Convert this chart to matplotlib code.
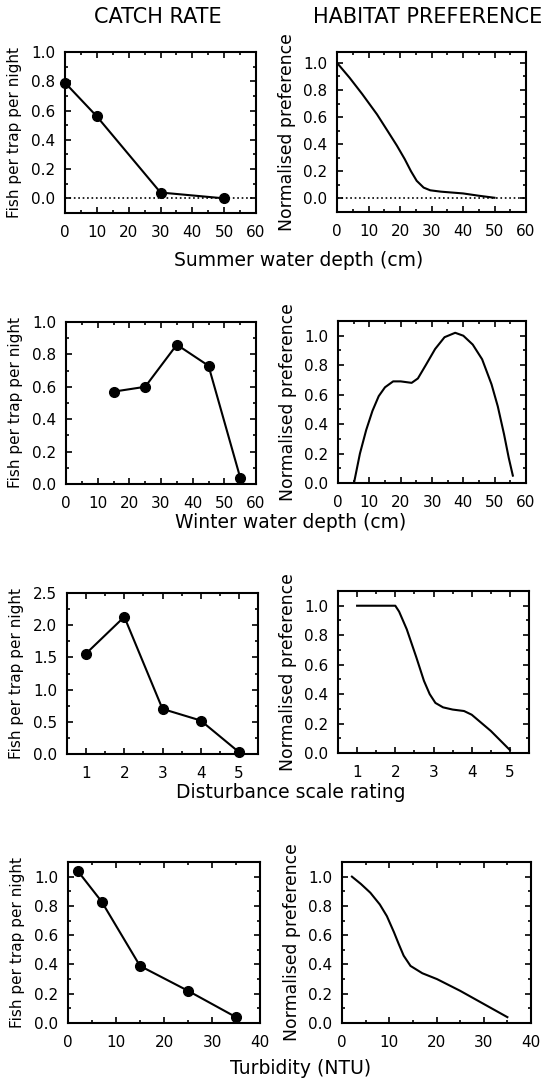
import matplotlib
matplotlib.use("Agg")
import matplotlib.pyplot as plt
from matplotlib.ticker import MultipleLocator, FormatStrFormatter

plt.rcParams['font.family'] = ['DejaVu Sans']

# ---- data ----
summer_depth = [0, 10, 30, 50]
summer_catch = [0.79, 0.56, 0.04, 0.0]
summer_pref_x = [0, 4, 8, 12.7, 16, 19, 21.5, 23.5, 25.3, 27.5, 29.6, 33, 40, 45, 50]
summer_pref_y = [1.0, 0.89, 0.77, 0.62, 0.50, 0.39, 0.29, 0.20, 0.13, 0.08, 0.06, 0.05, 0.037, 0.02, 0.005]

winter_depth = [15, 25, 35, 45, 55]
winter_catch = [0.57, 0.60, 0.86, 0.73, 0.04]
winter_pref_x = [5.1, 7, 9, 11, 13, 15, 17.6, 20, 23.5, 25.5, 28, 31, 34, 37.4, 40, 43, 46, 49, 51, 53, 54.5, 55.8]
winter_pref_y = [0.0, 0.2, 0.36, 0.49, 0.59, 0.65, 0.69, 0.69, 0.68, 0.71, 0.80, 0.91, 0.99, 1.02, 1.00, 0.94, 0.84, 0.67, 0.52, 0.33, 0.17, 0.05]

disturb = [1, 2, 3, 4, 5]
disturb_catch = [1.56, 2.13, 0.70, 0.52, 0.03]
disturb_pref_x = [1.0, 2.0, 2.1, 2.3, 2.55, 2.75, 2.9, 3.05, 3.25, 3.5, 3.8, 4.0, 4.5, 5.0]
disturb_pref_y = [1.0, 1.0, 0.96, 0.84, 0.65, 0.49, 0.40, 0.34, 0.31, 0.295, 0.285, 0.26, 0.15, 0.02]

turb = [2, 7, 15, 25, 35]
turb_catch = [1.04, 0.83, 0.39, 0.22, 0.04]
turb_pref_x = [2.1, 4, 6, 8, 9.5, 11, 12, 13.05, 14.5, 17, 20.1, 25, 30, 35]
turb_pref_y = [1.0, 0.95, 0.89, 0.81, 0.73, 0.62, 0.54, 0.46, 0.39, 0.34, 0.30, 0.22, 0.13, 0.04]

W, H = 551, 1084
fig = plt.figure(figsize=(W / 100, H / 100), dpi=100)

TICK_FS = 11
CATCH_FS = 11
PREF_FS = 12.4
XLAB_FS = 13.5
TITLE_FS = 15

def add_ax(L, R, T, B):
    ax = fig.add_axes([L / W, 1 - B / H, (R - L) / W, (B - T) / H])
    ax._wpx = R - L
    return ax

def style(ax, xlim, ylim, xmaj, ymaj, xmin, ymin, xticks=None):
    ax.set_xlim(*xlim)
    ax.set_ylim(*ylim)
    if xticks is not None:
        ax.set_xticks(xticks)
    else:
        ax.xaxis.set_major_locator(MultipleLocator(xmaj))
    ax.yaxis.set_major_locator(MultipleLocator(ymaj))
    ax.xaxis.set_minor_locator(MultipleLocator(xmin))
    ax.yaxis.set_minor_locator(MultipleLocator(ymin))
    ax.yaxis.set_major_formatter(FormatStrFormatter('%.1f'))
    ax.tick_params(which='both', direction='in', top=True, right=True, width=1.2,
                   labelsize=TICK_FS, colors='black')
    ax.tick_params(axis='x', which='major', pad=8.5)
    ax.tick_params(axis='y', which='major', pad=7)
    ax.tick_params(which='major', length=4)
    ax.tick_params(which='minor', length=2.5)
    for s in ax.spines.values():
        s.set_linewidth(1.5)

def ylab(ax, text, fs):
    ax.set_ylabel(text, fontsize=fs, va='center')
    ax.yaxis.set_label_coords(-50 / ax._wpx, 0.5)

catch_label = 'Fish per trap per night'
pref_label = 'Normalised preference'
lw = 1.5
ms = 7

# Titles
fig.text(157.5 / W, 1 - 17 / H, 'CATCH RATE', ha='center', va='center', fontsize=TITLE_FS)
fig.text(428 / W, 1 - 17 / H, 'HABITAT PREFERENCE', ha='center', va='center', fontsize=TITLE_FS)

# Row 1
ax = add_ax(65, 256, 52, 213)
ax.axhline(0, color='black', ls=':', lw=1.2)
ax.plot(summer_depth, summer_catch, '-o', color='black', lw=lw, ms=ms, clip_on=False, zorder=3)
style(ax, (0, 60), (-0.1, 1.0), 10, 0.2, 5, 0.1)
ylab(ax, catch_label, CATCH_FS)

ax = add_ax(337, 526, 52, 212)
ax.axhline(0, color='black', ls=':', lw=1.2)
ax.plot(summer_pref_x, summer_pref_y, '-', color='black', lw=lw)
style(ax, (0, 60), (-0.1, 1.08), 10, 0.2, 5, 0.1)
ylab(ax, pref_label, PREF_FS)
fig.text(299 / W, 1 - 260 / H, 'Summer water depth (cm)', ha='center', va='center', fontsize=XLAB_FS)

# Row 2
ax = add_ax(66, 256, 322, 484)
ax.plot(winter_depth, winter_catch, '-o', color='black', lw=lw, ms=ms, clip_on=False, zorder=3)
style(ax, (0, 60), (0, 1.0), 10, 0.2, 5, 0.1)
ylab(ax, catch_label, CATCH_FS)

ax = add_ax(338, 526, 321, 483)
ax.plot(winter_pref_x, winter_pref_y, '-', color='black', lw=lw)
style(ax, (0, 60), (0, 1.1), 10, 0.2, 5, 0.1)
ylab(ax, pref_label, PREF_FS)
fig.text(291 / W, 1 - 523 / H, 'Winter water depth (cm)', ha='center', va='center', fontsize=XLAB_FS)

# Row 3
ax = add_ax(67, 258, 593, 754)
ax.plot(disturb, disturb_catch, '-o', color='black', lw=lw, ms=ms, clip_on=False, zorder=3)
style(ax, (0.5, 5.5), (0, 2.5), 1, 0.5, 0.5, 0.25, xticks=disturb)
ylab(ax, catch_label, CATCH_FS)

ax = add_ax(338, 529, 591, 753)
ax.plot(disturb_pref_x, disturb_pref_y, '-', color='black', lw=lw)
style(ax, (0.5, 5.5), (0, 1.1), 1, 0.2, 0.5, 0.1, xticks=disturb)
ylab(ax, pref_label, PREF_FS)
fig.text(291 / W, 1 - 792 / H, 'Disturbance scale rating', ha='center', va='center', fontsize=XLAB_FS)

# Row 4
ax = add_ax(68, 260, 862, 1023)
ax.plot(turb, turb_catch, '-o', color='black', lw=lw, ms=ms, clip_on=False, zorder=3)
style(ax, (0, 40), (0, 1.1), 10, 0.2, 5, 0.1)
ylab(ax, catch_label, CATCH_FS)

ax = add_ax(342, 531, 862, 1023)
ax.plot(turb_pref_x, turb_pref_y, '-', color='black', lw=lw)
style(ax, (0, 40), (0, 1.1), 10, 0.2, 5, 0.1)
ylab(ax, pref_label, PREF_FS)
fig.text(301 / W, 1 - 1068 / H, 'Turbidity (NTU)', ha='center', va='center', fontsize=XLAB_FS)

fig.savefig('out.png', dpi=100)
